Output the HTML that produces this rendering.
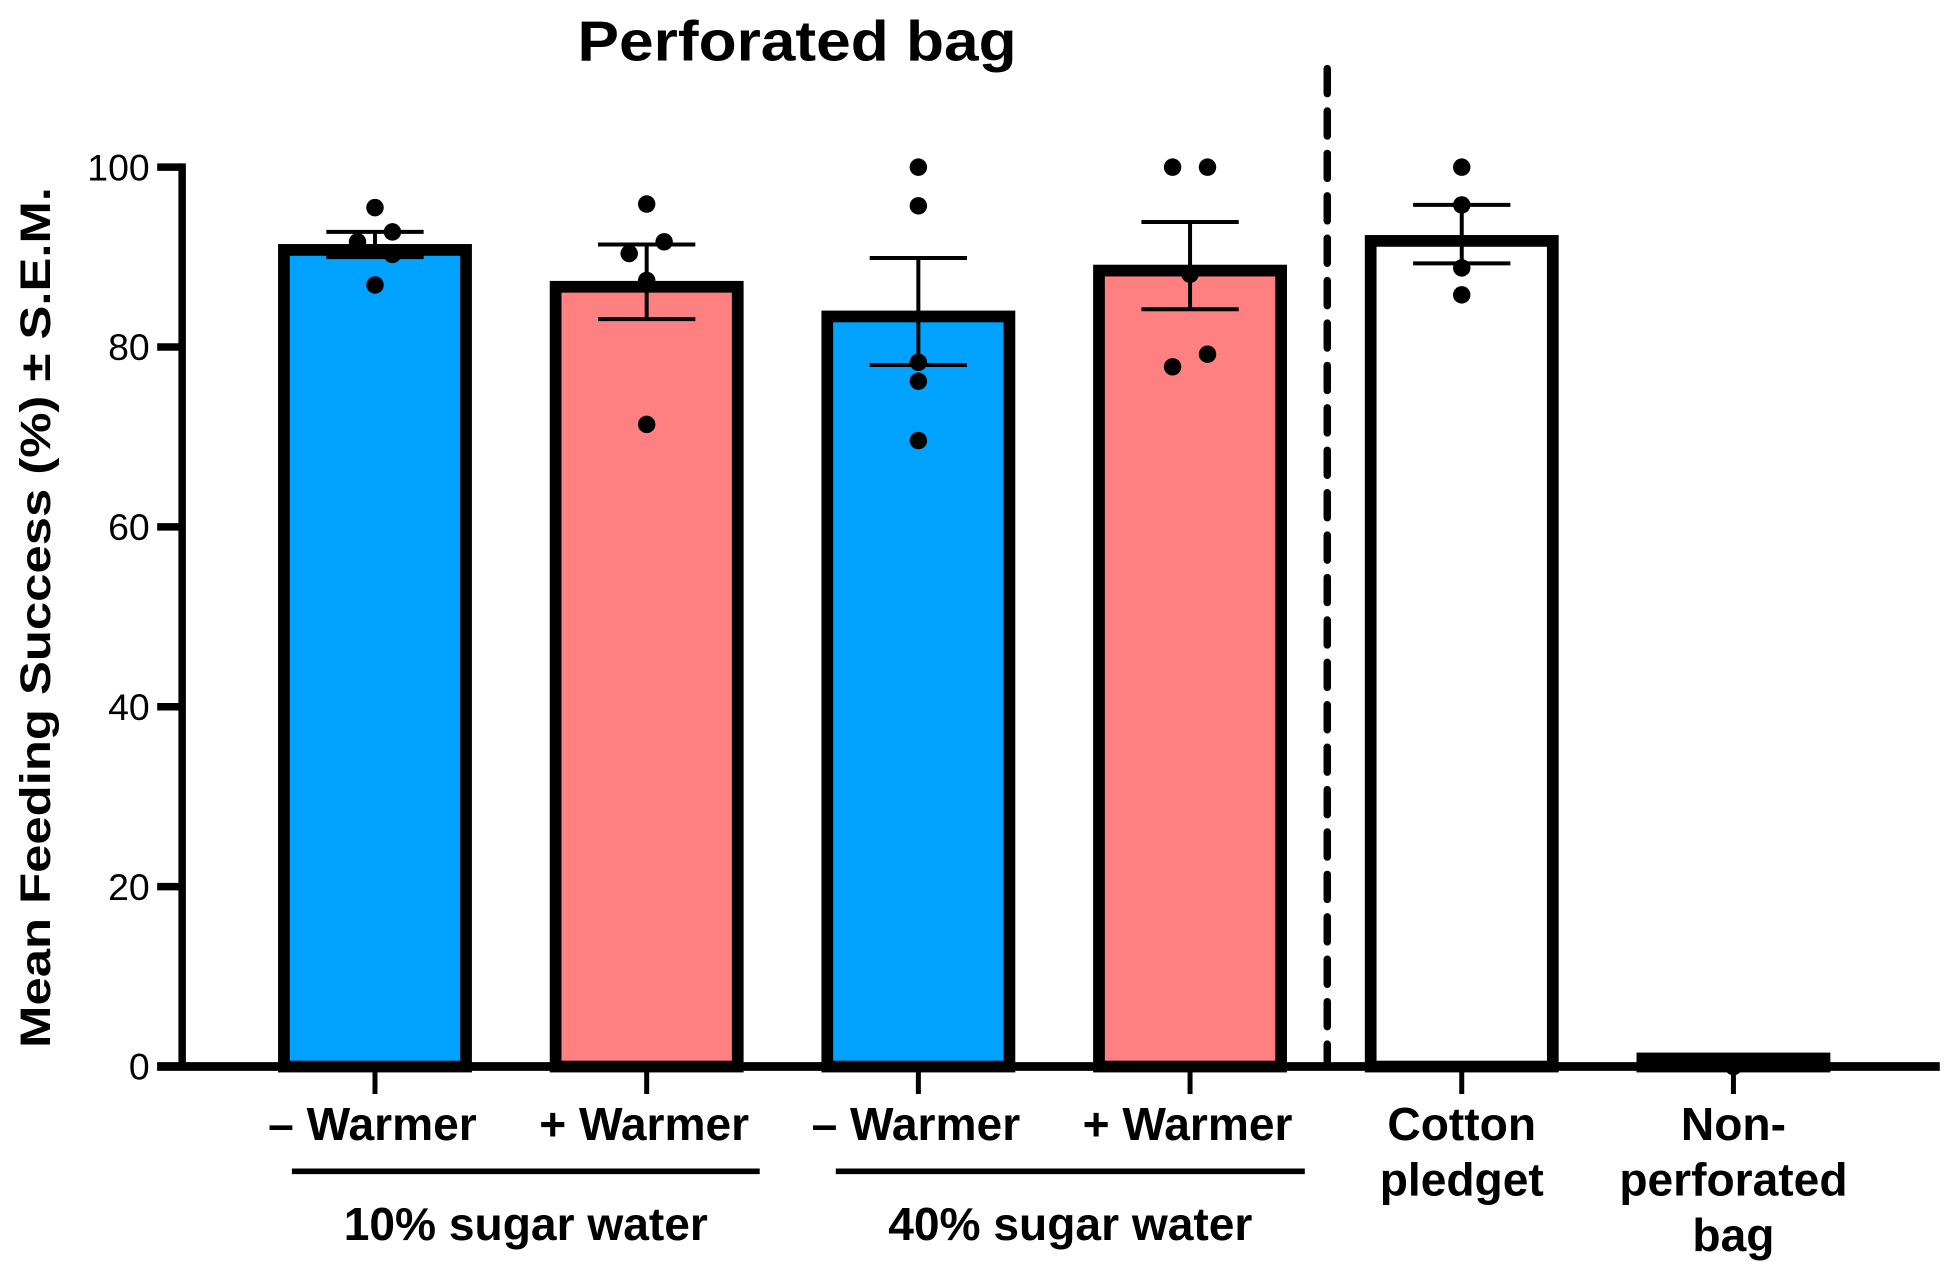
<!DOCTYPE html>
<html><head><meta charset="utf-8"><style>
html,body{margin:0;padding:0;background:#fff;}
svg{display:block;font-family:"Liberation Sans",Arial,sans-serif;}
</style></head><body>
<svg id="chart" width="1946" height="1273" viewBox="0 0 1560 1020.5" xmlns="http://www.w3.org/2000/svg">
<text x="639" y="48.6" font-size="45" font-weight="bold" text-anchor="middle" textLength="352" lengthAdjust="spacingAndGlyphs">Perforated bag</text>
<text transform="translate(40,495) rotate(-90)" font-size="34" font-weight="bold" text-anchor="middle" textLength="690" lengthAdjust="spacingAndGlyphs">Mean Feeding Success (%) ± S.E.M.</text>
<g id="plot"></g>
</svg>
<script>
const categories = ["- Warmer 10%", "+ Warmer 10%", "- Warmer 40%", "+ Warmer 40%", "Cotton pledget", "Non-perforated bag"];
const means = [90.8, 86.7, 83.4, 88.5, 91.8, 0.9];
const semUpper = [92.8, 91.4, 89.9, 93.9, 95.8, null];
const semLower = [90.0, 83.1, 78.0, 84.2, 89.3, null];
const pointValues = [
  [95.5, 92.8, 91.7, 90.3, 86.9],
  [95.9, 91.7, 90.4, 87.4, 71.4],
  [100, 95.7, 78.3, 76.2, 69.6],
  [100, 100, 88.1, 79.2, 77.8],
  [100, 95.8, 88.8, 85.8],
  [0]
];
const pointJitter = [
  [0, 1, -1, 1, 0],
  [0, 1, -1, 0, 0],
  [0, 0, 0, 0, 0],
  [-1, 1, 0, 1, -1],
  [0, 0, 0, 0],
  [0]
];
const fills = ["#00a2ff", "#ff8080", "#00a2ff", "#ff8080", "#ffffff", "#000000"];
const yTicks = [0, 20, 40, 60, 80, 100];

const NS = "http://www.w3.org/2000/svg";
const g = document.getElementById("plot");
const y0 = 855, y100 = 134;
function yScale(v){ return y0 - (y0 - y100) * v / 100; }
function xScale(i){ return 300.6 + 217.8 * i; }
function el(tag, attrs){
  const e = document.createElementNS(NS, tag);
  for (const k in attrs) e.setAttribute(k, attrs[k]);
  g.appendChild(e);
  return e;
}

categories.forEach((c, i) => {
  const cx = xScale(i), top = yScale(means[i]);
  const r = el("rect", {x: cx - 73, y: top, width: 146, height: y0 - top, fill: fills[i], stroke: "#000", "stroke-width": 9.4});
  
  
});

categories.forEach((c, i) => {
  if (semUpper[i] == null) return;
  const cx = xScale(i), yu = yScale(semUpper[i]), yl = yScale(semLower[i]);
  const grp = document.createElementNS(NS, "g");
  
  
  g.appendChild(grp);
  [[cx, yu, cx, yl], [cx - 39, yu, cx + 39, yu], [cx - 39, yl, cx + 39, yl]].forEach(p => {
    const l = document.createElementNS(NS, "line");
    l.setAttribute("x1", p[0]); l.setAttribute("y1", p[1]); l.setAttribute("x2", p[2]); l.setAttribute("y2", p[3]);
    l.setAttribute("stroke", "#000"); l.setAttribute("stroke-width", 3.2);
    grp.appendChild(l);
  });
});

pointValues.forEach((arr, i) => {
  arr.forEach((v, j) => {
    const c = el("circle", {cx: xScale(i) + pointJitter[i][j] * 14, cy: yScale(v), r: 7, fill: "#000"});
    
    
  });
});

const ya = el("line", {x1: 146, y1: y100 - 3, x2: 146, y2: y0 + 3, stroke: "#000", "stroke-width": 6});


const xa = el("line", {x1: 126, y1: y0, x2: 1555, y2: y0, stroke: "#000", "stroke-width": 7});


yTicks.forEach(t => {
  const y = yScale(t);
  const tk = el("line", {x1: 126, y1: y, x2: 146, y2: y, stroke: "#000", "stroke-width": 6});
  
  
  const tx = el("text", {x: 120, y: y + 10.5, "font-size": 30, "text-anchor": "end"});
  tx.textContent = t;
  
  
});
categories.forEach((c, i) => {
  const tk = el("line", {x1: xScale(i), y1: y0, x2: xScale(i), y2: y0 + 22, stroke: "#000", "stroke-width": 4});
  
  
});

const dv = el("line", {x1: 1064, y1: 55, x2: 1064, y2: 855, stroke: "#000", "stroke-width": 6, "stroke-dasharray": "20 14", "stroke-linecap": "round"});



const labelLines = [["– Warmer"], ["+ Warmer"], ["– Warmer"], ["+ Warmer"], ["Cotton", "pledget"], ["Non-", "perforated", "bag"]];
labelLines.forEach((lines, i) => {
  lines.forEach((s, k) => {
    const t = el("text", {x: xScale(i) - (i < 4 ? 2 : 0), y: 914 + k * 44.5, "font-size": 37, "font-weight": "bold", "text-anchor": "middle"});
    t.textContent = s;
    
    
  });
});

const groups = [["10% sugar water", 234, 609], ["40% sugar water", 670, 1046]];
groups.forEach(gr => {
  const l = el("line", {x1: gr[1], y1: 939, x2: gr[2], y2: 939, stroke: "#000", "stroke-width": 4.5});
  
  
  const t = el("text", {x: (gr[1] + gr[2]) / 2, y: 994, "font-size": 37, "font-weight": "bold", "text-anchor": "middle"});
  t.textContent = gr[0];
  
  
});
</script>
</body></html>
